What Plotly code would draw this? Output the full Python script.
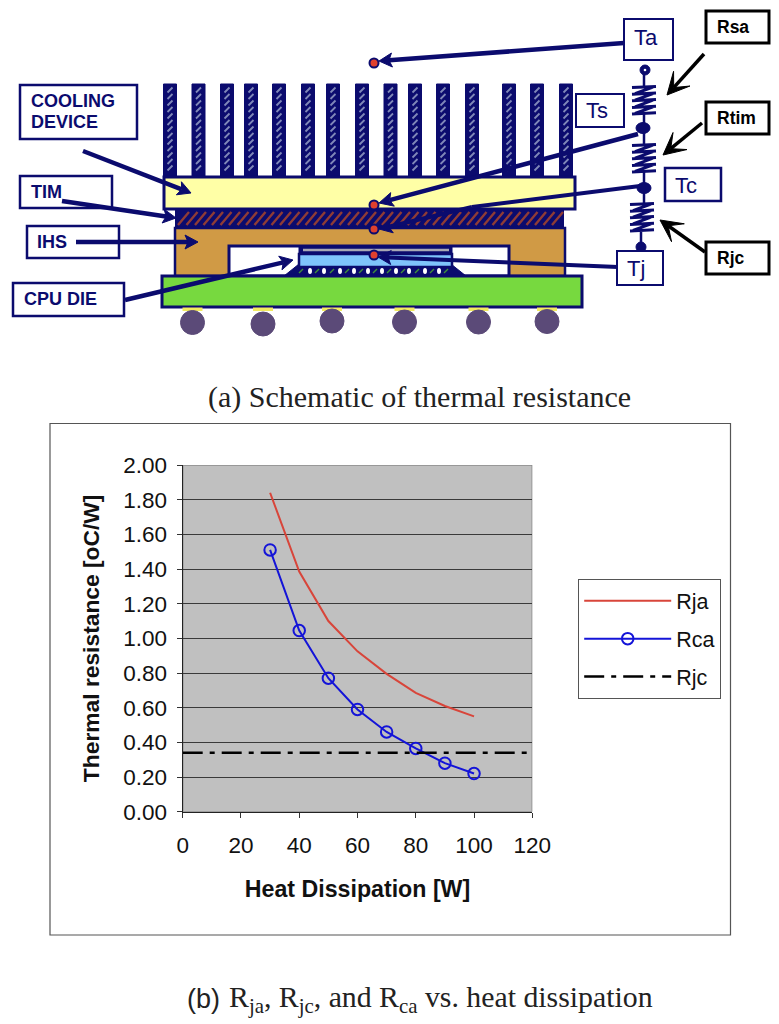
import math
import plotly.graph_objects as go

# ---- chart data ----
heat_w = [30, 40, 50, 60, 70, 80, 90, 100]
rja = [1.84, 1.385, 1.10, 0.925, 0.795, 0.685, 0.61, 0.55]
rca = [1.51, 1.045, 0.77, 0.59, 0.46, 0.365, 0.28, 0.22]
rjc_x = [0, 119]
rjc = [0.34, 0.34]
y_ticks = [0, 0.2, 0.4, 0.6, 0.8, 1.0, 1.2, 1.4, 1.6, 1.8, 2.0]
x_ticks = [0, 20, 40, 60, 80, 100, 120]

W, H = 779, 1024
NAVY = "#0b0b6e"
SANS = "Liberation Sans, Arial, sans-serif"
SERIF = "Liberation Serif, Times New Roman, serif"

shapes = []
annots = []


def rect(x0, y0, x1, y1, fill="rgba(0,0,0,0)", line=NAVY, lw=2.5):
    shapes.append(dict(type="rect", xref="x2", yref="y2", x0=x0, y0=y0, x1=x1, y1=y1,
                       fillcolor=fill, line=dict(color=line, width=lw)))


def path(d, fill="rgba(0,0,0,0)", line=NAVY, lw=2.5):
    shapes.append(dict(type="path", xref="x2", yref="y2", path=d, fillcolor=fill,
                       line=dict(color=line, width=lw)))


def seg(x0, y0, x1, y1, color=NAVY, lw=4.5):
    shapes.append(dict(type="line", xref="x2", yref="y2", x0=x0, y0=y0, x1=x1, y1=y1,
                       line=dict(color=color, width=lw)))


def dot(cx, cy, rx, ry, fill=NAVY, line=NAVY, lw=1):
    shapes.append(dict(type="circle", xref="x2", yref="y2", x0=cx - rx, x1=cx + rx,
                       y0=cy - ry, y1=cy + ry, fillcolor=fill, line=dict(color=line, width=lw)))


def arrow(x0, y0, x1, y1, color=NAVY, lw=4.5, hl=13, hw=7, notch=3):
    a = math.atan2(y1 - y0, x1 - x0)
    c, s = math.cos(a), math.sin(a)
    bx, by = x1 - hl * c, y1 - hl * s
    nx, ny = x1 - (hl - notch) * c, y1 - (hl - notch) * s
    px, py = -s * hw, c * hw
    seg(x0, y0, nx, ny, color, lw)
    path(f"M {x1} {y1} L {bx + px} {by + py} L {nx} {ny} L {bx - px} {by - py} Z",
         fill=color, line=color, lw=1)


def text(x, y, s, size, color=NAVY, bold=False, family=SANS, anchor="left"):
    annots.append(dict(xref="x2", yref="y2", x=x, y=y, text=f"<b>{s}</b>" if bold else s,
                       showarrow=False, xanchor=anchor, yanchor="middle", align="left",
                       font=dict(size=size, color=color, family=family), borderpad=0, borderwidth=0))


# ---- schematic ----
for cx in [170, 198.5, 227, 251, 279, 308, 333, 362, 390.5, 415, 443, 472, 509, 537, 566]:
    rect(cx - 6.5, 84, cx + 6.5, 176, fill=NAVY, lw=1)
    d = ""
    y = 90
    while y < 174:
        d += f"M {cx - 2.5} {y + 2.5} L {cx + 2.5} {y - 2.5} "
        y += 6.5
    path(d, line="#8088b8", lw=1.8)

rect(164, 177, 575, 209, fill="#ffffa6", lw=3)
rect(176, 210, 563, 227, fill=NAVY, lw=2)
d = ""
x = 178
while x < 556:
    d += f"M {x} 225 L {x + 11} 212 "
    x += 8.5
path(d, line="#8f3c36", lw=2.4)
rect(175, 228, 565, 276, fill="#d09a45", lw=2.5)
rect(229, 246, 509, 276, fill="white", lw=3)
path("M 284 276 L 299 264 L 451 264 L 466 276 Z", fill=NAVY, lw=1)
rect(299, 246, 452, 254, fill=NAVY, lw=1)
seg(303, 250, 449, 250, color="#a8a8b4", lw=2.5)
rect(299, 254, 452, 267, fill="#7fc4fb", lw=2.5)
for bx in [310, 324, 340, 354, 368, 382, 396, 409, 425, 439]:
    dot(bx, 271, 2, 3, fill="white", line="white", lw=0)
for gx in [301, 317, 332, 347, 361, 375, 389, 403, 417, 432, 446]:
    seg(gx - 2, 273, gx + 2, 269, color="#3f8f3a", lw=1.4)
rect(162, 276, 582, 307, fill="#77d93f", lw=3)
for cx, cy in [(192.5, 322.5), (263, 324), (332, 321), (404.5, 322), (478.5, 322), (547, 321.5)]:
    rect(cx - 10, 307.5, cx + 10, 311, fill="#f2ea60", line="#f2ea60", lw=0)
    dot(cx, cy, 12, 12, fill="#5b4a78", line="#5b4a78")

# callout boxes on the left
rect(20, 85, 137, 139, fill="white")
text(30.5, 101, "COOLING", 18, bold=True)
text(30.5, 122, "DEVICE", 18, bold=True)
rect(20, 176, 112, 208, fill="white")
text(30.5, 192, "TIM", 18, bold=True)
rect(27, 226, 119, 258, fill="white")
text(37, 242, "IHS", 18, bold=True)
rect(13, 283, 124, 316, fill="white")
text(23.5, 299, "CPU DIE", 18, bold=True)

arrow(83, 151, 191, 193)
arrow(62, 201, 176, 218)
arrow(76, 242, 198, 242)
arrow(125, 300, 293, 260)

# temperature leader lines
arrow(624, 43, 379, 61)
arrow(638, 134, 379, 203, hl=14)
seg(640, 186, 472, 207, lw=4)
arrow(472, 207, 379, 229, lw=4)
arrow(618, 267, 378, 257, lw=4)
for cy in [63, 205, 229, 255]:
    dot(374, cy, 4.5, 4.5, fill="#e0402e", line=NAVY, lw=2)

# resistor chain
seg(644, 70, 644, 88, lw=2.5)
seg(644, 114, 644, 144, lw=2.5)
seg(644, 172, 644, 204, lw=2.5)
seg(641, 232, 641, 248, lw=2.5)
dot(645, 70, 5, 5, fill=NAVY)
dot(645, 70, 1.3, 1.3, fill="white", line="white", lw=0)
dot(641, 247, 5, 5, fill=NAVY)
dot(643, 128, 7, 5.5)
dot(644, 188, 7, 5.5)
for cx, top in [(644, 87), (644, 145), (642, 204)]:
    d = ""
    for i in range(5):
        yy = top + i * 6.6
        d += f"M {cx - 12} {yy + 0.6} L {cx + 12} {yy - 0.6} "
        if i < 4:
            d += f"M {cx + 9} {yy} L {cx - 9} {yy + 6.6} "
    path(d, lw=3)

rect(624, 19, 673, 60, fill="white", lw=2)
text(645.5, 37, "Ta", 22, anchor="center")
rect(576, 94, 624, 127, fill="white", lw=2)
text(597, 110, "Ts", 22, anchor="center")
rect(665, 168, 721, 201, fill="white", lw=2.5)
text(685.5, 185, "Tc", 22, anchor="center")
rect(617, 251, 663, 285, fill="white", lw=2)
text(636, 268, "Tj", 22, anchor="center")

for top, label in [(11, "Rsa"), (102, "Rtim"), (242, "Rjc")]:
    rect(706, top, 769, top + 32, fill="white", line="black", lw=3)
    text(717, top + 16, label, 17.5, color="black", bold=True)
arrow(704, 54, 667, 95, color="black", lw=3.5, hl=22, hw=11, notch=12)
arrow(702, 123, 663, 155, color="black", lw=3.5, hl=22, hw=11, notch=12)
arrow(705, 252, 660, 220, color="black", lw=3.5, hl=22, hw=11, notch=12)

# captions and chart frame
text(419, 396.5, "(a) Schematic of thermal resistance", 30, color="#222222", family=SERIF, anchor="center")
text(187, 999, "(b)", 27, color="#222222")
text(229, 999, "R<sub>ja</sub>, R<sub>jc</sub>, and R<sub>ca</sub> vs. heat dissipation", 29.8,
     color="#222222", family=SERIF)
rect(50, 423.5, 730.5, 935, line="#555555", lw=1.2)

# grey plot panel and border (below the gridlines)
shapes.append(dict(type="rect", xref="x", yref="y", x0=0, x1=120, y0=0, y1=2,
                   fillcolor="#c0c0c0", line=dict(color="#8a8a8a", width=1.5), layer="below"))

fig = go.Figure()
fig.add_trace(go.Scatter(x=heat_w, y=rja, mode="lines", name="Rja",
                         line=dict(color="#d8453a", width=2), legendgroup="a"))
fig.add_trace(go.Scatter(x=heat_w, y=rca, mode="lines+markers", name="Rca",
                         line=dict(color="#1414d8", width=2), legendgroup="b",
                         marker=dict(symbol="circle-open", size=11.5, color="#1414d8",
                                     line=dict(width=2, color="#1414d8"))))
fig.add_trace(go.Scatter(x=rjc_x, y=rjc, mode="lines", name="Rjc",
                         line=dict(color="black", width=2.5, dash="20px,7px,5px,7px"), legendgroup="c"))

axis_font = dict(size=22.5, color="#111111", family=SANS)
fig.update_layout(
    width=W, height=H, margin=dict(l=0, r=0, t=0, b=0, autoexpand=False), autosize=False,
    paper_bgcolor="white", plot_bgcolor="rgba(0,0,0,0)",
    font=dict(family=SANS),
    xaxis=dict(domain=[182.7 / W, 532.3 / W], range=[0, 120], tickvals=x_ticks,
               ticks="outside", ticklen=5, tickcolor="#333333", showgrid=False, zeroline=False,
               showline=True, linecolor="#222222", linewidth=1.2, tickfont=axis_font,
               ticklabelstandoff=8,
               anchor="y", title=dict(text="<b>Heat Dissipation [W]</b>",
                                      font=dict(size=23.2, color="#111111", family=SANS), standoff=23)),
    yaxis=dict(domain=[1 - 811.7 / H, 1 - 465 / H], range=[0, 2], tickvals=y_ticks, tickformat=".2f",
               ticks="outside", ticklen=5, tickcolor="#333333", showgrid=True, gridcolor="#3a3a3a",
               gridwidth=1, zeroline=False, showline=True, linecolor="#222222", linewidth=1.2,
               tickfont=axis_font, anchor="x", ticklabelstandoff=5,
               title=dict(text="<b>Thermal resistance [oC/W]</b>",
                          font=dict(size=22.8, color="#111111", family=SANS), standoff=17)),
    xaxis2=dict(domain=[0, 1], range=[0, W], visible=False, anchor="y2", fixedrange=True),
    yaxis2=dict(domain=[0, 1], range=[H, 0], visible=False, anchor="x2", fixedrange=True),
    legend=dict(x=578 / W, y=1 - 579 / H, xanchor="left", yanchor="top", bgcolor="white",
                bordercolor="#555555", borderwidth=1.2, font=dict(size=21.5, color="#111111", family=SANS),
                itemwidth=87, tracegroupgap=7, itemclick=False, itemdoubleclick=False),
    shapes=shapes, annotations=annots, showlegend=True,
)
fig.write_html("out.html", config=dict(displayModeBar=False),
               post_script="document.body.style.margin='0';")
